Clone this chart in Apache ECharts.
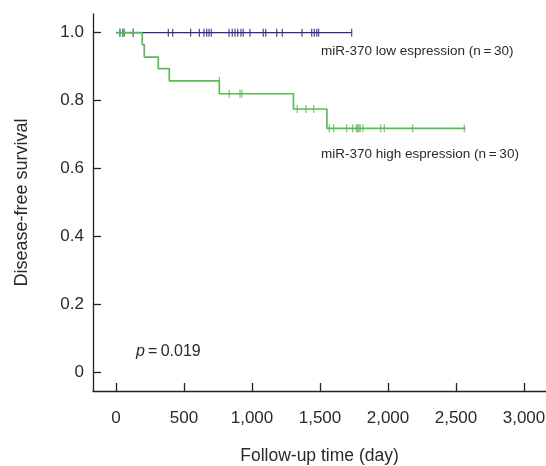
<!DOCTYPE html>
<html>
<head>
<meta charset="utf-8">
<script src="https://cdn.jsdelivr.net/npm/echarts@6/dist/echarts.min.js"></script>
<style>
html,body{margin:0;padding:0;background:#fff;}
#c{width:546px;height:466px;}
</style>
</head>
<body>
<div id="c"></div>
<script>
// ---- data ----
const xTicks = [0, 500, 1000, 1500, 2000, 2500, 3000];
const xTickLabels = ['0', '500', '1,000', '1,500', '2,000', '2,500', '3,000'];
const yTicks = [0, 0.2, 0.4, 0.6, 0.8, 1.0];
const yTickLabels = ['0', '0.2', '0.4', '0.6', '0.8', '1.0'];

// low expression group: no events
const lowTimes = [0, 1733];
const lowSurv = [1, 1];
const lowCensor = [29, 49, 61, 127, 385, 417, 549, 613, 647, 667, 684, 701, 831, 855, 875, 895, 919, 936, 985, 1083, 1101, 1182, 1223, 1368, 1439, 1458, 1476, 1490, 1733];

// high expression group
const highTimes = [0, 193, 208, 311, 392, 760, 1305, 1551, 2571];
const highSurv = [1, 0.965, 0.928, 0.894, 0.858, 0.82, 0.775, 0.718, 0.718];
const highCensor = [29, 51, 61, 127, 760, 833, 912, 926, 1333, 1397, 1454, 1569, 1601, 1696, 1740, 1767, 1777, 1787, 1796, 1816, 1946, 1973, 2181, 2561];

const labelLow = 'miR-370 low espression (n\u2009=\u200930)';
const labelHigh = 'miR-370 high espression (n\u2009=\u200930)';
const pText = '0.019';

// ---- helpers ----
function levelAt(times, surv, t) {
  let s = surv[0];
  for (let i = 0; i < times.length; i++) { if (times[i] < t) s = surv[i]; }
  return s;
}
const FONT = "'Liberation Sans', Arial, Helvetica, sans-serif";
const BLUE = '#2e2b87';
const GREEN = '#58bc55';
const TXT = '#2a2a2a';

const chart = echarts.init(document.getElementById('c'), null, {renderer: 'canvas'});
chart.setOption({
  animation: false,
  backgroundColor: '#fff',
  grid: {left: 93, right: 0, top: 14, bottom: 75, containLabel: false, outerBoundsMode: 'none'},
  xAxis: {
    type: 'value', min: -169, max: 3162,
    name: 'Follow-up time (day)', nameLocation: 'middle', nameGap: 56,
    nameTextStyle: {fontFamily: FONT, fontSize: 17.5, color: TXT},
    axisLine: {show: true, onZero: false, lineStyle: {color: '#222', width: 1.3}},
    axisTick: {show: true, inside: true, length: 8, customValues: xTicks, lineStyle: {color: '#222', width: 1.3}},
    axisLabel: {customValues: xTicks, margin: 19, fontFamily: FONT, fontSize: 17, color: TXT,
      formatter: v => xTickLabels[xTicks.indexOf(v)]},
    splitLine: {show: false}
  },
  yAxis: {
    type: 'value', min: -0.056, max: 1.055,
    name: 'Disease-free survival', nameLocation: 'middle', nameGap: 62,
    nameTextStyle: {fontFamily: FONT, fontSize: 18, color: TXT},
    axisLine: {show: true, onZero: false, lineStyle: {color: '#222', width: 1.3}},
    axisTick: {show: true, inside: true, length: 8, customValues: yTicks, lineStyle: {color: '#222', width: 1.3}},
    axisLabel: {customValues: yTicks, margin: 9, fontFamily: FONT, fontSize: 17, color: TXT,
      formatter: v => { let i = yTicks.findIndex(t => Math.abs(t - v) < 1e-9); return yTickLabels[i]; }},
    splitLine: {show: false}
  },
  graphic: [
    {type: 'text', left: 321, top: 44, style: {text: labelLow, font: "13.5px " + FONT, fill: TXT}},
    {type: 'text', left: 321, top: 147, style: {text: labelHigh, font: "13.5px " + FONT, fill: TXT}},
    {type: 'text', left: 136, top: 344, style: {
      text: '{i|p}{n|\u2009=\u2009' + pText + '}',
      rich: {i: {fontFamily: FONT, fontSize: 16, fontStyle: 'italic', fill: TXT},
             n: {fontFamily: FONT, fontSize: 16, fill: TXT}}
    }}
  ],
  series: [
    {type: 'line', step: 'end', symbol: 'none', data: lowTimes.map((t, i) => [t, lowSurv[i]]),
      lineStyle: {color: BLUE, width: 1.4}, z: 2},
    {type: 'scatter', symbol: 'rect', symbolSize: [1.3, 8],
      data: lowCensor.map(t => [t, levelAt(lowTimes, lowSurv, t)]),
      itemStyle: {color: BLUE}, z: 2},
    {type: 'line', step: 'end', symbol: 'none', data: highTimes.map((t, i) => [t, highSurv[i]]),
      lineStyle: {color: GREEN, width: 1.7}, z: 3},
    {type: 'scatter', symbol: 'rect', symbolSize: [1.3, 8],
      data: highCensor.map(t => [t, levelAt(highTimes, highSurv, t)]),
      itemStyle: {color: GREEN}, z: 3}
  ]
});
</script>
</body>
</html>
